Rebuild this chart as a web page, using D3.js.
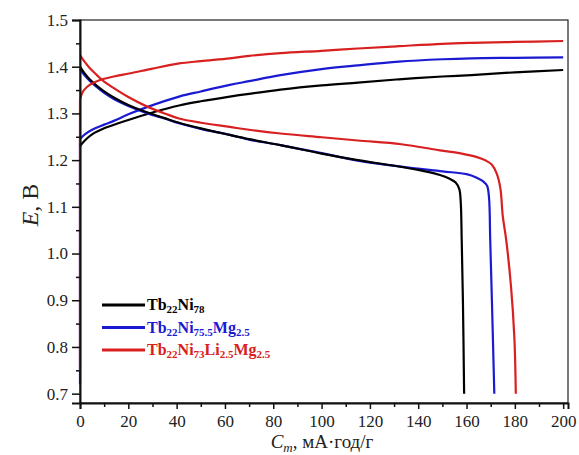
<!DOCTYPE html>
<html>
<head>
<meta charset="utf-8">
<script src="https://cdn.jsdelivr.net/npm/d3@7"></script>
<style>
  body { margin: 0; background: #fff; }
  text { font-family: "Liberation Serif", "Times New Roman", serif; }
</style>
</head>
<body>
<div class="chart"></div>
<script>
var svgWidth = 579;
var svgHeight = 455;

// charge curves [C, E]
var chargeTb22Ni78 = [[0,1.23],[2,1.242],[5,1.255],[10,1.268],[20,1.286],[30,1.302],[41,1.317],[50,1.326],[62,1.336],[70,1.342],[83,1.351],[100,1.360],[115,1.366],[132,1.373],[150,1.379],[162,1.382],[180,1.388],[200,1.393]];
var chargeMg = [[0,1.245],[2,1.255],[5,1.265],[10,1.276],[14,1.284],[20,1.298],[28,1.314],[41,1.336],[50,1.347],[62,1.361],[70,1.369],[83,1.382],[100,1.395],[115,1.403],[132,1.411],[150,1.416],[162,1.418],[180,1.419],[200,1.42]];
var chargeLiMg = [[0,1.33],[1,1.345],[2,1.352],[4,1.361],[8,1.371],[14,1.379],[21,1.386],[30,1.396],[41,1.407],[50,1.412],[62,1.418],[70,1.423],[83,1.429],[100,1.434],[115,1.439],[132,1.444],[150,1.449],[162,1.451],[180,1.453],[200,1.455]];
// vertical jump at the start of charge (E from, E to, at C = 0)
var chargeJumpMg = [[0,0.72],[0,1.245]];
var chargeJumpLiMg = [[0,0.75],[0,1.33]];

// discharge curves [C, E]
var dischargeTb22Ni78 = [[0,1.40],[2,1.385],[4,1.373],[7,1.359],[10,1.347],[14,1.334],[20,1.318],[28,1.302],[35,1.290],[41,1.280],[50,1.268],[62,1.254],[70,1.245],[83,1.232],[100,1.214],[115,1.200],[130,1.188],[140,1.179],[149,1.168],[153,1.160],[155.5,1.152],[157,1.138],[157.6,1.11],[158,1.03],[158.5,0.9],[159,0.70]];
var dischargeMg = [[0,1.395],[2,1.381],[4,1.370],[7,1.356],[10,1.344],[14,1.331],[20,1.316],[28,1.300],[35,1.289],[41,1.279],[50,1.267],[62,1.254],[70,1.244],[83,1.232],[100,1.215],[115,1.199],[133,1.186],[150,1.176],[160,1.170],[164,1.163],[167,1.154],[168.5,1.145],[169.3,1.12],[169.8,1.03],[170.5,0.9],[171.5,0.70]];
var dischargeLiMg = [[0,1.425],[2,1.41],[4,1.397],[7,1.382],[10,1.368],[14,1.354],[20,1.335],[28,1.314],[35,1.300],[41,1.289],[50,1.280],[62,1.271],[70,1.265],[83,1.257],[100,1.249],[115,1.242],[133,1.234],[149,1.221],[158,1.214],[164,1.207],[168,1.199],[170.5,1.190],[172.5,1.171],[174,1.14],[175,1.08],[176.4,1.03],[178.4,0.93],[179.8,0.82],[180.4,0.70]];

var xTicks = [0,20,40,60,80,100,120,140,160,180,200];
var yTicks = [0.7,0.8,0.9,1.0,1.1,1.2,1.3,1.4,1.5];

// legend: [base, sub, base, sub ...]
var legendLabels = [
  ["Tb","22","Ni","78"],
  ["Tb","22","Ni","75.5","Mg","2.5"],
  ["Tb","22","Ni","73","Li","2.5","Mg","2.5"]
];
var seriesColors = ["#000000", "#1a1ad2", "#d82020"];

var svg = d3.select(".chart")
  .append("svg")
  .attr("width", svgWidth)
  .attr("height", svgHeight);

var x = d3.scaleLinear().domain([0, 202]).range([80, 568]);
var y = d3.scaleLinear().domain([0.68, 1.5]).range([403, 20]);

// frame top/right
svg.append("rect")
  .attr("x", 80).attr("y", 20)
  .attr("width", 488).attr("height", 383)
  .attr("fill", "none")
  .attr("stroke", "#222")
  .attr("stroke-width", 1.2);

var smooth = d3.line()
  .curve(d3.curveCatmullRom.alpha(0.5))
  .x(function(d) { return x(d[0]); })
  .y(function(d) { return y(d[1]); });
var straight = d3.line()
  .x(function(d) { return x(d[0]); })
  .y(function(d) { return y(d[1]); });

var curves = [
  [chargeJumpMg, 1, straight], [chargeJumpLiMg, 2, straight],
  [chargeTb22Ni78, 0, smooth], [chargeMg, 1, smooth],
  [dischargeMg, 1, smooth], [dischargeTb22Ni78, 0, smooth],
  [chargeLiMg, 2, smooth], [dischargeLiMg, 2, smooth]
];
curves.forEach(function(c) {
  svg.append("path")
    .datum(c[0])
    .attr("fill", "none")
    .attr("stroke", seriesColors[c[1]])
    .attr("stroke-width", 2.2)
    .attr("stroke-linejoin", "round")
    .attr("d", c[2]);
});

// x axis
var xAxis = svg.append("g")
  .attr("transform", "translate(0,403)")
  .call(d3.axisBottom(x).tickValues(xTicks).tickSize(6).tickPadding(6).tickFormat(d3.format("d")));
svg.append("g")
  .attr("transform", "translate(0,403)")
  .call(d3.axisBottom(x).tickValues(d3.range(10, 201, 20)).tickSize(4).tickFormat(""))
  .select(".domain").remove();

// y axis
var yAxis = svg.append("g")
  .attr("transform", "translate(80,0)")
  .call(d3.axisLeft(y).tickValues(yTicks).tickSize(8).tickPadding(4).tickFormat(d3.format(".1f")));
svg.append("g")
  .attr("transform", "translate(80,0)")
  .call(d3.axisLeft(y).tickValues(d3.range(0.75, 1.5, 0.1)).tickSize(4).tickFormat(""))
  .select(".domain").remove();

svg.selectAll(".domain").attr("stroke", "#111").attr("stroke-width", 2);
svg.selectAll(".tick line").attr("stroke", "#111").attr("stroke-width", 1.5);
svg.selectAll(".tick text")
  .attr("fill", "#222")
  .style("font-family", "'Liberation Serif', serif")
  .style("font-size", "17px");

// axis titles
var xt = svg.append("text")
  .attr("x", 322).attr("y", 448)
  .attr("text-anchor", "middle")
  .style("font-size", "19px")
  .attr("fill", "#222");
xt.append("tspan").style("font-style", "italic").text("C");
xt.append("tspan").style("font-style", "italic").style("font-size", "13px").attr("dy", 4).text("m");
xt.append("tspan").attr("dy", -4).text(", мА·год/г");

var yt = svg.append("text")
  .attr("transform", "translate(38,205) rotate(-90)")
  .attr("text-anchor", "middle")
  .style("font-size", "24px")
  .attr("fill", "#222");
yt.append("tspan").style("font-style", "italic").text("E");
yt.append("tspan").text(", В");

// legend
legendLabels.forEach(function(parts, i) {
  var ly = 305 + i * 22.5;
  svg.append("line")
    .attr("x1", 102).attr("x2", 145)
    .attr("y1", ly).attr("y2", ly)
    .attr("stroke", seriesColors[i])
    .attr("stroke-width", 3);
  var t = svg.append("text")
    .attr("x", 147).attr("y", ly + 5)
    .attr("fill", seriesColors[i])
    .style("font-size", "16px")
    .style("font-weight", "bold");
  parts.forEach(function(p, j) {
    var sp = t.append("tspan").text(p);
    if (j % 2 === 1) sp.style("font-size", "11px").attr("dy", 3);
    else if (j > 0) sp.attr("dy", -3);
  });
});
</script>
</body>
</html>
